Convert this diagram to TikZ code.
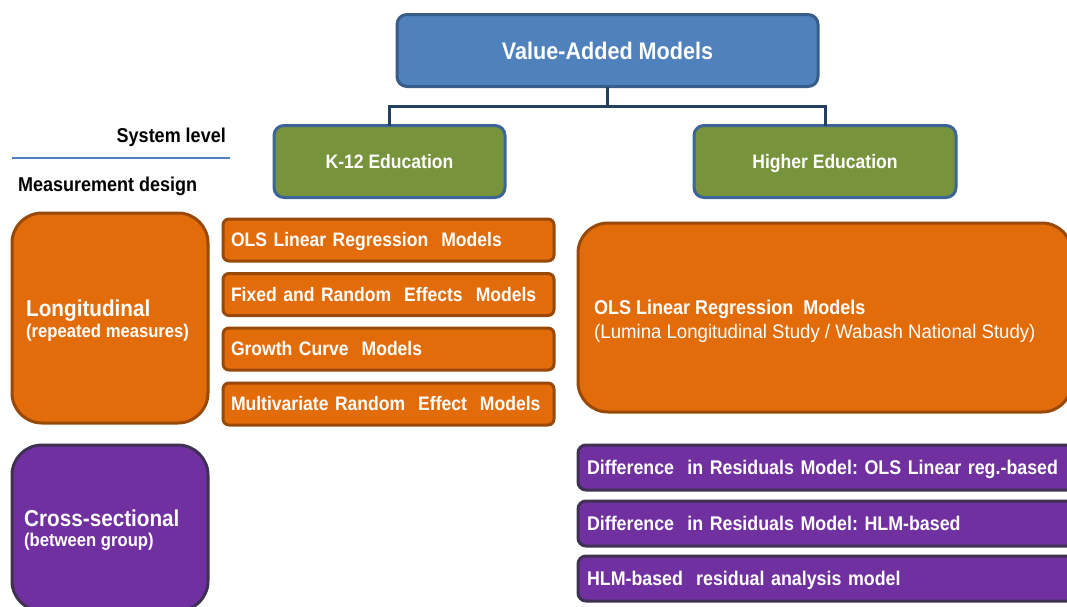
\documentclass[tikz,border=0pt]{standalone}
\usepackage{fontspec}
\setmainfont{Liberation Sans}[FakeStretch=0.9]
\newfontfamily\regf{Liberation Sans}[FakeStretch=0.95]
\definecolor{vblue}{HTML}{4F81BD}
\definecolor{vbluedk}{HTML}{385D8A}
\definecolor{conncol}{HTML}{243F60}
\definecolor{vgreen}{HTML}{77933C}
\definecolor{vgreenbd}{HTML}{3D6496}
\definecolor{vorange}{HTML}{E36C0A}
\definecolor{vorangebd}{HTML}{984807}
\definecolor{vpurple}{HTML}{7030A0}
\definecolor{vpurplebd}{HTML}{3F3151}
\tikzset{
  basebox/.style={line width=3pt, text=white, inner ysep=0pt, outer sep=0pt, text height=13.5pt, text depth=0pt},
  topbox/.style={basebox, draw=vbluedk, fill=vblue, rounded corners=10pt, text height=17pt, font=\fontsize{24}{28}\selectfont\bfseries},
  levbox/.style={basebox, draw=vgreenbd, fill=vgreen, rounded corners=10pt, text height=14pt, font=\fontsize{19.5}{23}\selectfont\bfseries},
  orbig/.style={basebox, draw=vorangebd, fill=vorange, rounded corners=30pt},
  orsmall/.style={basebox, draw=vorangebd, fill=vorange, rounded corners=6pt, align=left, inner xsep=8pt, text width=315pt, font=\fontsize{19.5}{22}\selectfont\bfseries},
  pubig/.style={basebox, draw=vpurplebd, fill=vpurple, rounded corners=30pt},
  pubar/.style={basebox, draw=vpurplebd, fill=vpurple, rounded corners=8pt, align=left, inner xsep=9pt, text width=494pt, font=\fontsize{19.8}{22}\selectfont\bfseries},
  lbl/.style={text=white, inner sep=0pt},
  conn/.style={draw=conncol, line width=3pt},
  hdr/.style={font=\fontsize{20}{23}\selectfont\bfseries, text=black, inner sep=0pt},
}
\begin{document}
\begin{tikzpicture}[x=1pt,y=-1pt]
\useasboundingbox (0,0) rectangle (1067,606);
\clip (0,0) rectangle (1067,606);

% top
\node[topbox, minimum width=421pt, minimum height=72pt] (vam) at (607.5,50.5) {Value-Added Models};
\node[levbox, minimum width=231pt, minimum height=72pt] (k12) at (389.5,161.5) {K-12 Education};
\node[levbox, minimum width=262pt, minimum height=72pt] (he) at (825,161.5) {Higher Education};
\coordinate (j) at (607.5,106);
\draw[conn] (vam.south) -- (j) -| (k12.north);
\draw[conn] (j) -| (he.north);

% headers
\node[hdr, anchor=base east] (sys) at (226,142) {System level};
\node[hdr, anchor=base west] (mdes) at (18,191) {Measurement design};
\draw[vblue, line width=1.2pt] (12,158) -- (230,158);

% longitudinal
\node[orbig, minimum width=196pt, minimum height=210pt] (lon) at (110,318) {};
\node[lbl, anchor=base west, font=\fontsize{23}{26}\selectfont\bfseries] (lon1) at (26,316) {Longitudinal};
\node[lbl, anchor=base west, font=\fontsize{18.5}{21}\selectfont\bfseries] (lon2) at (26,337) {(repeated measures)};

\node[orsmall, minimum width=331pt, minimum height=42pt] (m1) at (388.5,240) {OLS Linear Regression\ \ Models};
\node[orsmall, minimum width=331pt, minimum height=42pt] (m2) at (388.5,294.5) {Fixed and\ Random\ \ Effects\ \ Models};
\node[orsmall, minimum width=331pt, minimum height=42pt] (m3) at (388.5,349) {Growth Curve\ \ Models};
\node[orsmall, minimum width=331pt, minimum height=42pt] (m4) at (388.5,404) {Multivariate Random\ \ Effect\ \ Models};

\node[orbig, minimum width=494pt, minimum height=189pt] (heo) at (825,317.5) {};
\node[lbl, anchor=base west, font=\fontsize{20}{23}\selectfont\bfseries] (heo1) at (594,314) {OLS Linear Regression\ \ Models};
\node[lbl, anchor=base west, font=\regf\fontsize{19.6}{23}\selectfont] (heo2) at (594,338) {(Lumina Longitudinal Study / Wabash National Study)};

% cross-sectional
\node[pubig, minimum width=196pt, minimum height=166pt] (cs) at (110,528) {};
\node[lbl, anchor=base west, font=\fontsize{23}{26}\selectfont\bfseries] (cs1) at (24,526) {Cross-sectional};
\node[lbl, anchor=base west, font=\fontsize{18.5}{21}\selectfont\bfseries] (cs2) at (24,546) {(between group)};

\node[pubar, minimum width=512pt, minimum height=45pt] (p1) at (834,467.5) {Difference\ \ in Residuals Model:\ OLS Linear\ reg.-based};
\node[pubar, minimum width=512pt, minimum height=45pt] (p2) at (834,523.5) {Difference\ \ in Residuals Model:\ HLM-based};
\node[pubar, minimum width=512pt, minimum height=45pt] (p3) at (834,578.5) {HLM-based\ \ residual\ analysis\ model};
\end{tikzpicture}
\end{document}
